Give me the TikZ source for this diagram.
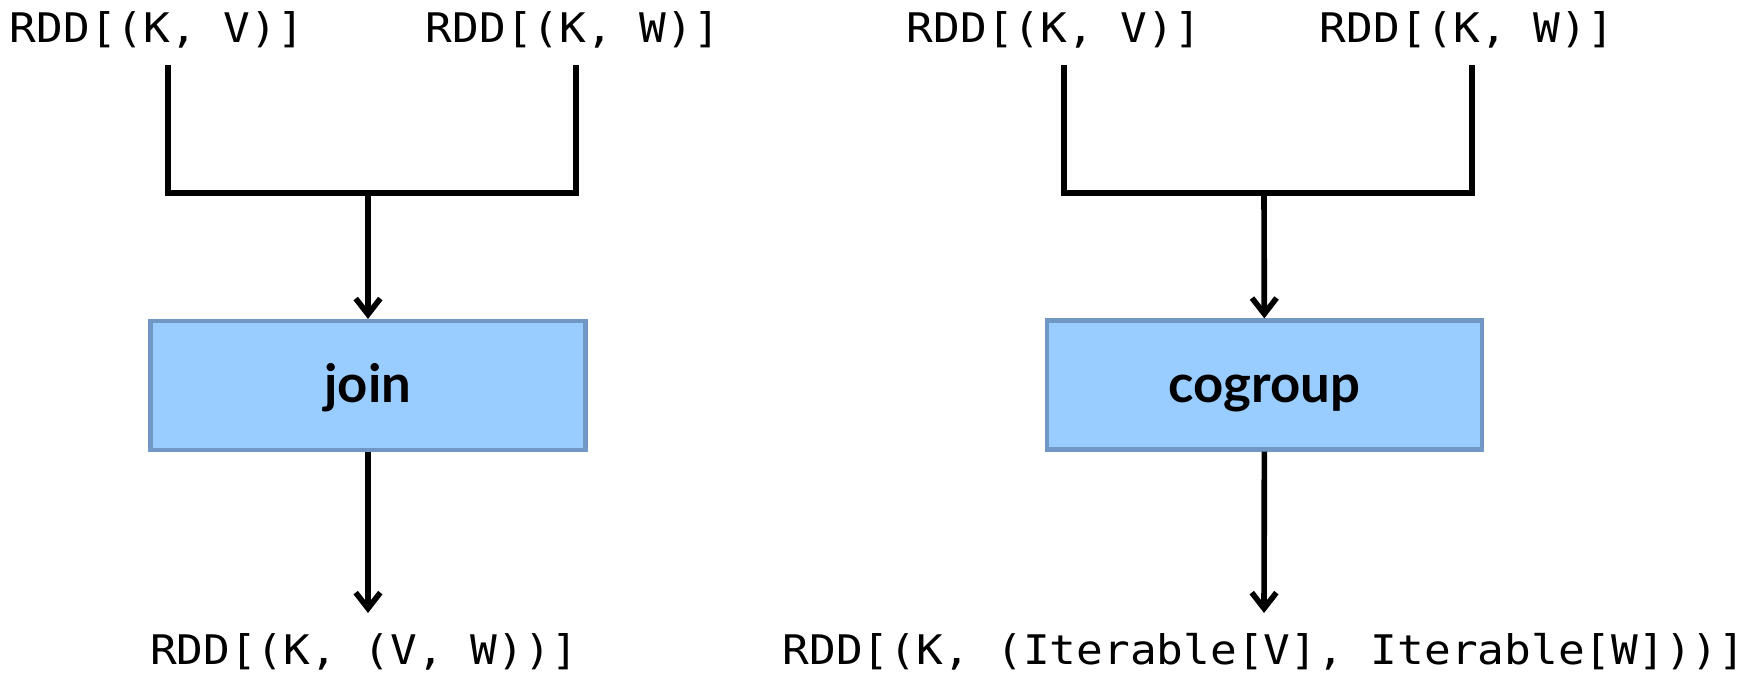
\documentclass[tikz,border=0pt]{standalone}
\usepackage{fontspec}
\usetikzlibrary{arrows.meta}
\newfontfamily\codefont[FakeStretch=1.09]{DejaVu Sans Mono}
\newfontfamily\opfont{Lato}
\definecolor{opfill}{HTML}{99CCFF}
\definecolor{opline}{HTML}{7197C4}
\tikzset{
  code/.style={font={\codefont\fontsize{23.2}{27}\selectfont}, inner sep=0pt, anchor=base},
  op/.style={draw=opline, fill=opfill, line width=2.4pt, minimum width=8.7cm, minimum height=2.58cm,
    font={\opfont\bfseries\fontsize{30}{34}\selectfont}, text height=19.4pt, text depth=0pt},
  wire/.style={line width=3.2pt},
  flow/.style={wire, -{Straight Barb[length=9pt,width=14pt]}}
}
\begin{document}
\begin{tikzpicture}[x=0.02cm,y=-0.02cm]
  \useasboundingbox (0,0) rectangle (1764,678);
  % join
  \node[code] (kv1) at (157,43) {RDD[(K, V)]};
  \node[code] (kw1) at (573,43) {RDD[(K, W)]};
  \coordinate (v1) at (168,65);
  \coordinate (w1) at (576,65);
  \coordinate (m1) at (368,193);
  \node[op] (join) at (368,385.5) {join};
  \coordinate (o1) at (368,613);
  \node[code] (res1) at (364,664) {RDD[(K, (V, W))]};
  \draw[wire] (v1) |- (m1) -| (w1);
  \draw[flow] (m1) -- (join);
  \draw[flow] (join) -- (o1);
  % cogroup
  \node[code] (kv2) at (1054,43) {RDD[(K, V)]};
  \node[code] (kw2) at (1467,43) {RDD[(K, W)]};
  \coordinate (v2) at (1064,65);
  \coordinate (w2) at (1472,65);
  \coordinate (m2) at (1264,193);
  \node[op] (cogroup) at (1264.5,385) {cogroup};
  \coordinate (o2) at (1264,613);
  \node[code] (res2) at (1264,664) {RDD[(K, (Iterable[V], Iterable[W]))]};
  \draw[wire] (v2) |- (m2) -| (w2);
  \draw[flow] (m2) -- (cogroup);
  \draw[flow] (cogroup) -- (o2);
\end{tikzpicture}
\end{document}
